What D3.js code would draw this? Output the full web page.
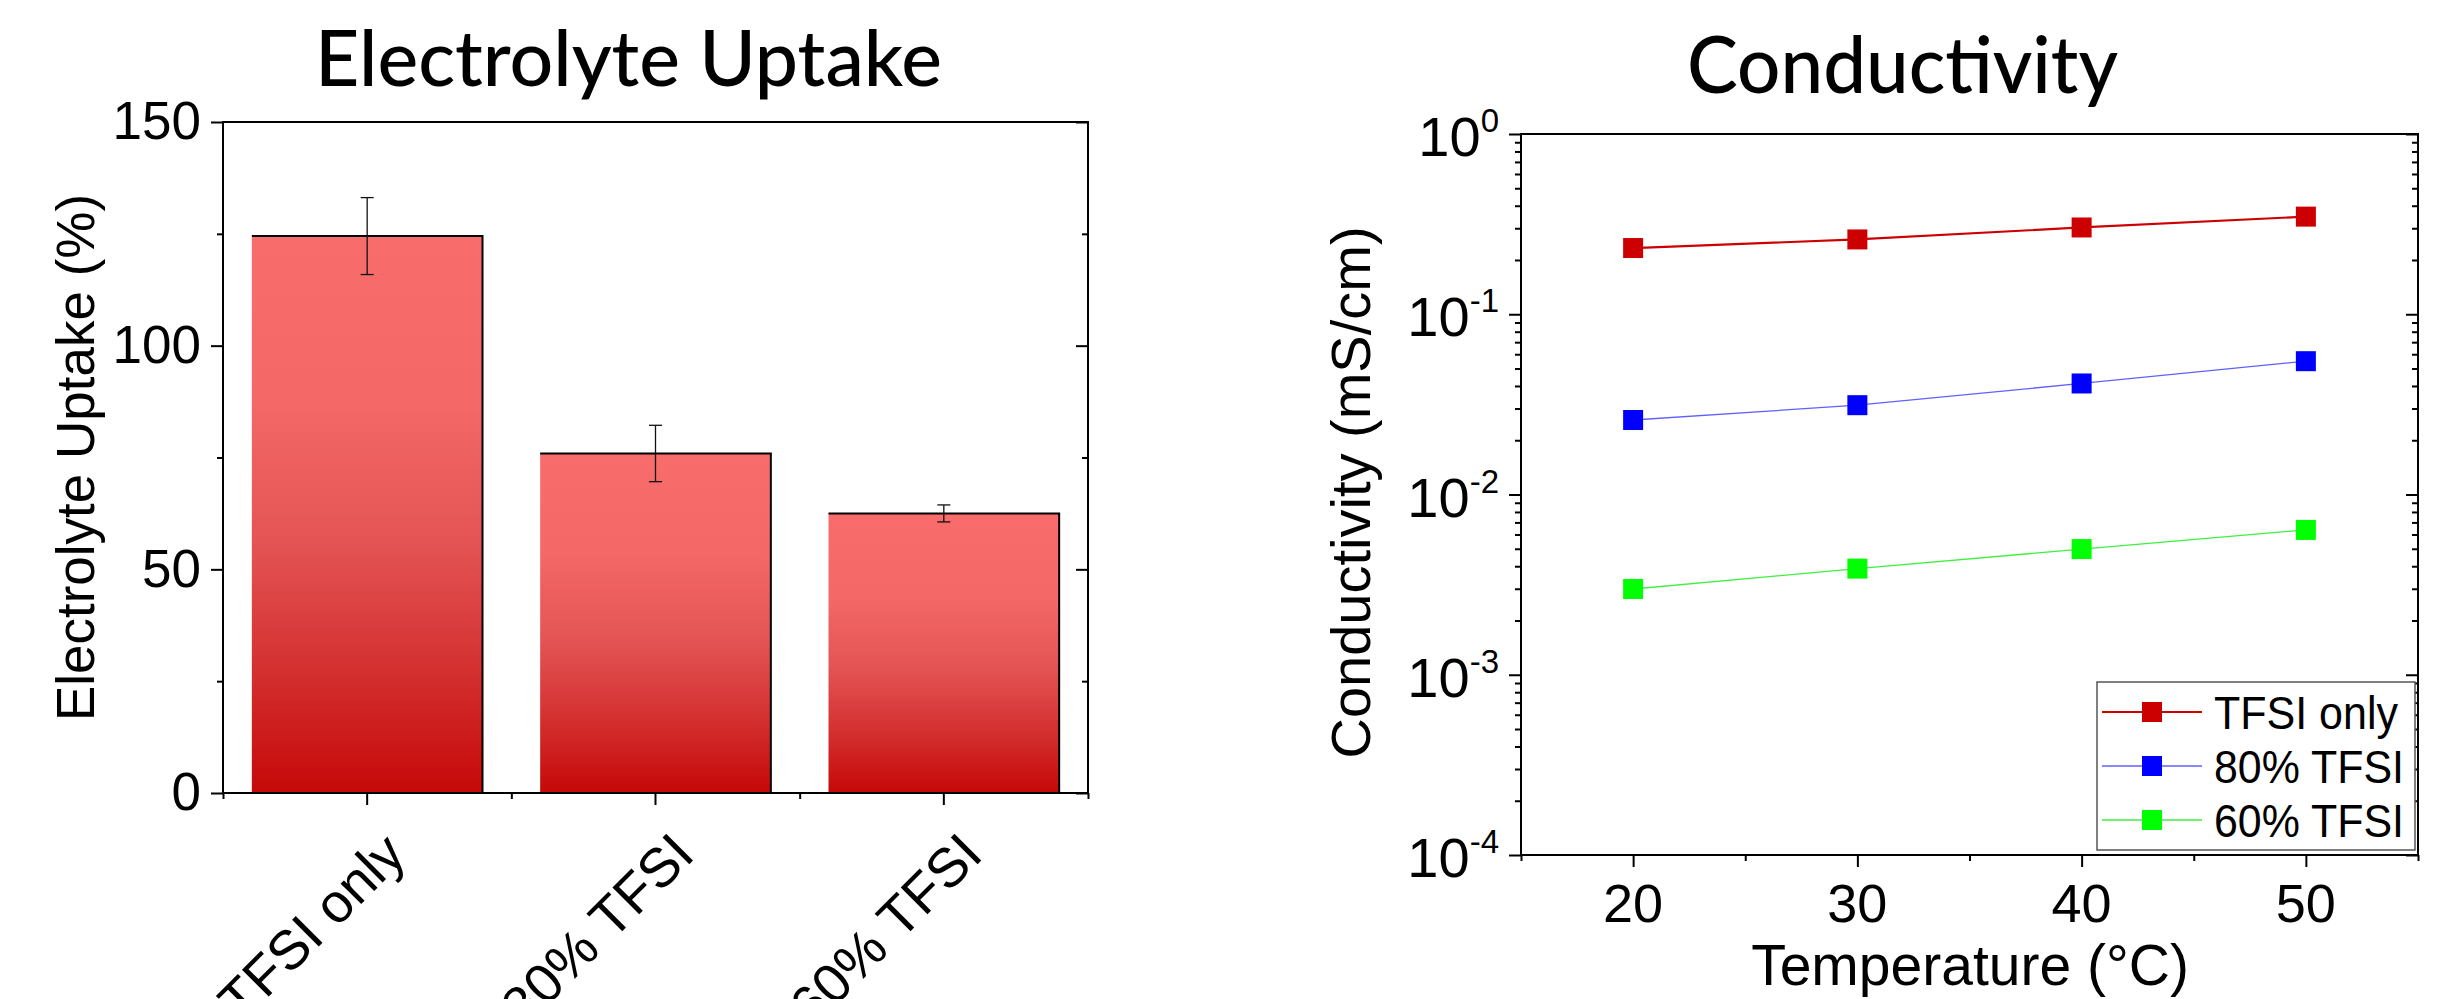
<!DOCTYPE html>
<html><head><meta charset="utf-8">
<script src="https://cdn.jsdelivr.net/npm/d3@7"></script>
<style>body{margin:0;background:#fff;} svg{display:block}</style>
</head><body>
<svg id="chart" width="2462" height="999"></svg>
<script>
// ---------- Data ----------
const categories = ["TFSI only", "80% TFSI", "60% TFSI"];
const uptakeValues = [124.5, 75.9, 62.5];
const uptakeErrors = [8.6, 6.3, 1.9];
const uptakeTicks = [0, 50, 100, 150];
const uptakeMinorTicks = [25, 75, 125];

const temperatures = [20, 30, 40, 50];
const seriesNames = ["TFSI only", "80% TFSI", "60% TFSI"];
const condTFSIonly = [0.233, 0.260, 0.303, 0.348];
const cond80 = [0.0259, 0.0313, 0.0413, 0.0549];
const cond60 = [0.00299, 0.00388, 0.00498, 0.00636];
const seriesColors = ["#CC0000", "#0000FF", "#00FF00"];
const lineColors = ["#CC0000", "#6060FF", "#40F040"];
const lineWidths = [2.2, 1.3, 1.3];
const tempTicks = [20, 30, 40, 50];
const tempMinorTicks = [15, 25, 35, 45, 55];
const condTickExponents = [0, -1, -2, -3, -4];

const svg = d3.select("#chart");
const ARIAL = "'Liberation Sans', Arial, sans-serif";
const TITLEF = "Lato, 'Open Sans', sans-serif";

// ---------- Left chart: Electrolyte Uptake ----------
const L = {left: 223, right: 1088, top: 122, bottom: 793};
const x = d3.scaleBand().domain(categories).range([L.left, L.right]).paddingInner(0.2).paddingOuter(0.1);
const xb = d3.scaleLinear().domain([0, categories.length]).range([L.left, L.right]);
const y = d3.scaleLinear().domain([0, 150]).range([L.bottom, L.top]);

const defs = svg.append("defs");
const grad = defs.append("linearGradient").attr("id", "barGrad")
  .attr("x1", 0).attr("y1", 0).attr("x2", 0).attr("y2", 1);
[["0%", "#F96C6C"], ["30%", "#F46868"], ["55%", "#E45454"], ["78%", "#D43030"], ["100%", "#C60808"]]
  .forEach(([o, c]) => grad.append("stop").attr("offset", o).attr("stop-color", c));

const gL = svg.append("g");
gL.selectAll("rect.bar").data(categories).join("rect").attr("class", "bar")
  .attr("x", d => x(d)).attr("width", x.bandwidth())
  .attr("y", (d, i) => y(uptakeValues[i]))
  .attr("height", (d, i) => y(0) - y(uptakeValues[i]))
  .attr("fill", "url(#barGrad)");
gL.selectAll("path.edge").data(categories).join("path").attr("class", "edge")
  .attr("d", (d, i) => `M${x(d)},${y(uptakeValues[i])}H${x(d) + x.bandwidth()}V${y(0)}`)
  .attr("fill", "none").attr("stroke", "#000").attr("stroke-width", 2);

// error bars
const eb = gL.selectAll("g.err").data(categories).join("g").attr("class", "err");
eb.append("line")
  .attr("x1", d => x(d) + x.bandwidth() / 2).attr("x2", d => x(d) + x.bandwidth() / 2)
  .attr("y1", (d, i) => y(uptakeValues[i] + uptakeErrors[i]))
  .attr("y2", (d, i) => y(uptakeValues[i] - uptakeErrors[i]))
  .attr("stroke", "#111").attr("stroke-width", 1.3);
[1, -1].forEach(s => {
  eb.append("line")
    .attr("x1", d => x(d) + x.bandwidth() / 2 - 6.5).attr("x2", d => x(d) + x.bandwidth() / 2 + 6.5)
    .attr("y1", (d, i) => y(uptakeValues[i] + s * uptakeErrors[i]))
    .attr("y2", (d, i) => y(uptakeValues[i] + s * uptakeErrors[i]))
    .attr("stroke", "#111").attr("stroke-width", 1.3);
});

// frame
gL.append("rect").attr("x", L.left).attr("y", L.top).attr("width", L.right - L.left).attr("height", L.bottom - L.top)
  .attr("fill", "none").attr("stroke", "#000").attr("stroke-width", 2);

function styleAxis(g) {
  g.select(".domain").remove();
  g.selectAll(".tick line").attr("stroke", "#000").attr("stroke-width", 2);
}
// left y axis
gL.append("g").attr("transform", `translate(${L.left},0)`)
  .call(d3.axisLeft(y).tickValues(uptakeTicks).tickSize(12).tickPadding(10).tickFormat(d3.format("d")))
  .call(styleAxis)
  .selectAll("text").attr("font-family", ARIAL).attr("font-size", 53).attr("fill", "#000");
gL.append("g").attr("transform", `translate(${L.left},0)`)
  .call(d3.axisLeft(y).tickValues(uptakeMinorTicks).tickSize(6).tickFormat(""))
  .call(styleAxis);
// right y axis (inward)
gL.append("g").attr("transform", `translate(${L.right},0)`)
  .call(d3.axisLeft(y).tickValues(uptakeTicks).tickSize(12).tickFormat(""))
  .call(styleAxis);
gL.append("g").attr("transform", `translate(${L.right},0)`)
  .call(d3.axisLeft(y).tickValues(uptakeMinorTicks).tickSize(6).tickFormat(""))
  .call(styleAxis);
// bottom axis
gL.append("g").attr("transform", `translate(0,${L.bottom})`)
  .call(d3.axisBottom(x).tickSize(12).tickFormat(""))
  .call(styleAxis);
gL.append("g").attr("transform", `translate(0,${L.bottom})`)
  .call(d3.axisBottom(xb).tickValues(d3.range(categories.length + 1)).tickSize(6).tickFormat(""))
  .call(styleAxis);
// rotated category labels
gL.selectAll("text.cat").data(categories).join("text").attr("class", "cat")
  .attr("transform", d => `translate(${x(d) + x.bandwidth() / 2 + 41},${L.bottom + 64}) rotate(-45)`)
  .attr("text-anchor", "end").attr("font-family", ARIAL).attr("font-size", 55).attr("fill", "#000")
  .text(d => d);
// y title
gL.append("text").attr("transform", `translate(94,${(L.top + L.bottom) / 2}) rotate(-90)`)
  .attr("text-anchor", "middle").attr("font-family", ARIAL).attr("font-size", 53).attr("fill", "#000")
  .text("Electrolyte Uptake (%)");
// title
gL.append("text").attr("x", 628.5).attr("y", 86).attr("text-anchor", "middle")
  .attr("font-family", TITLEF).attr("font-size", 78).attr("font-weight", 500).attr("fill", "#000")
  .attr("textLength", 627).attr("lengthAdjust", "spacingAndGlyphs")
  .text("Electrolyte Uptake");

// ---------- Right chart: Conductivity ----------
const R = {left: 1521, right: 2418, top: 134, bottom: 855};
const xs = d3.scaleLinear().domain([15, 55]).range([R.left, R.right]);
const ys = d3.scaleLog().domain([1e-4, 1]).range([R.bottom, R.top]);
const gR = svg.append("g");

const majorVals = condTickExponents.map(e => Math.pow(10, e));
const minorVals = [];
condTickExponents.slice(1).forEach(e => { for (let k = 2; k <= 9; k++) minorVals.push(k * Math.pow(10, e)); });

gR.append("rect").attr("x", R.left).attr("y", R.top).attr("width", R.right - R.left).attr("height", R.bottom - R.top)
  .attr("fill", "none").attr("stroke", "#000").attr("stroke-width", 2);

[[R.left], [R.right]].forEach(([px]) => {
  gR.append("g").attr("transform", `translate(${px},0)`)
    .call(d3.axisLeft(ys).tickValues(majorVals).tickSize(12).tickFormat("")).call(styleAxis);
  gR.append("g").attr("transform", `translate(${px},0)`)
    .call(d3.axisLeft(ys).tickValues(minorVals).tickSize(6).tickFormat("")).call(styleAxis);
});
gR.append("g").attr("transform", `translate(0,${R.bottom})`)
  .call(d3.axisBottom(xs).tickValues(tempTicks).tickSize(12).tickFormat("")).call(styleAxis);
gR.append("g").attr("transform", `translate(0,${R.bottom})`)
  .call(d3.axisBottom(xs).tickValues(tempMinorTicks).tickSize(6).tickFormat("")).call(styleAxis);

// y tick labels 10^n
const ylab = gR.selectAll("text.ylab").data(condTickExponents).join("text").attr("class", "ylab")
  .attr("x", 1499).attr("y", e => ys(Math.pow(10, e)) + 22)
  .attr("text-anchor", "end").attr("font-family", ARIAL).attr("font-size", 56).attr("fill", "#000");
ylab.append("tspan").text("10");
ylab.append("tspan").attr("dy", -24).attr("font-size", 33).text(e => String(e));

// x tick labels
gR.selectAll("text.xlab").data(tempTicks).join("text").attr("class", "xlab")
  .attr("x", d => xs(d)).attr("y", 922).attr("text-anchor", "middle")
  .attr("font-family", ARIAL).attr("font-size", 54).attr("fill", "#000").text(d => d);

// series
const seriesData = [condTFSIonly, cond80, cond60];
const line = d3.line().x((d, i) => xs(temperatures[i])).y(d => ys(d));
seriesData.forEach((vals, s) => {
  gR.append("path").attr("d", line(vals)).attr("fill", "none")
    .attr("stroke", lineColors[s]).attr("stroke-width", lineWidths[s]);
  gR.selectAll(null).data(vals).join("rect")
    .attr("x", (d, i) => xs(temperatures[i]) - 10).attr("y", d => ys(d) - 10)
    .attr("width", 20).attr("height", 20).attr("fill", seriesColors[s]);
});

// legend
const lg = gR.append("g");
lg.append("rect").attr("x", 2097).attr("y", 682).attr("width", 318).attr("height", 168)
  .attr("fill", "#fff").attr("stroke", "#555").attr("stroke-width", 1.5);
seriesNames.forEach((name, s) => {
  const cy = 712 + s * 54;
  lg.append("line").attr("x1", 2102).attr("x2", 2202).attr("y1", cy).attr("y2", cy)
    .attr("stroke", lineColors[s]).attr("stroke-width", lineWidths[s]);
  lg.append("rect").attr("x", 2142).attr("y", cy - 10).attr("width", 20).attr("height", 20).attr("fill", seriesColors[s]);
  lg.append("text").attr("x", 2214).attr("y", cy + 16.5).attr("font-family", ARIAL).attr("font-size", 46)
    .attr("fill", "#000").attr("textLength", s === 0 ? 184 : 190).attr("lengthAdjust", "spacingAndGlyphs").text(name);
});

// axis titles
gR.append("text").attr("transform", `translate(1370,${(R.top + R.bottom) / 2 - 2}) rotate(-90)`)
  .attr("text-anchor", "middle").attr("font-family", ARIAL).attr("font-size", 56).attr("fill", "#000")
  .text("Conductivity (mS/cm)");
gR.append("text").attr("x", 1970).attr("y", 985).attr("text-anchor", "middle")
  .attr("font-family", ARIAL).attr("font-size", 57).attr("fill", "#000")
  .text("Temperature (°C)");
gR.append("text").attr("x", 1902.5).attr("y", 93).attr("text-anchor", "middle")
  .attr("font-family", TITLEF).attr("font-size", 79).attr("font-weight", 500).attr("fill", "#000")
  .attr("textLength", 431).attr("lengthAdjust", "spacingAndGlyphs")
  .text("Conductivity");
</script>
</body></html>
